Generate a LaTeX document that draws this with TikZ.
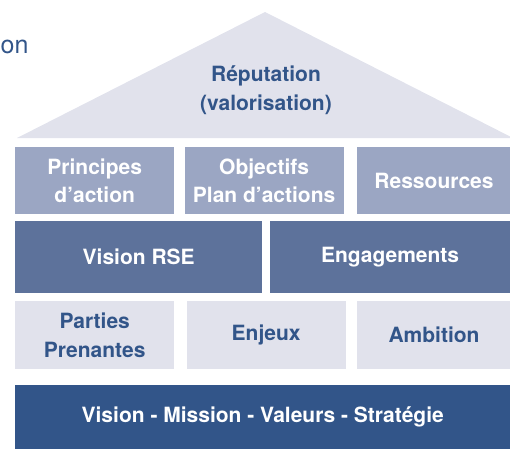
\documentclass[tikz,border=0pt]{standalone}
\usepackage{fontspec}
\setmainfont{TeX Gyre Heros}
\usetikzlibrary{positioning}
\definecolor{roofcolor}{RGB}{225,226,236}
\definecolor{pillarcolor}{RGB}{155,166,195}
\definecolor{beamcolor}{RGB}{93,114,155}
\definecolor{basecolor}{RGB}{50,85,137}

\begin{document}
\begin{tikzpicture}[
    x=1pt, y=-1pt,
    node distance=10pt and 10pt,
    every node/.style={font=\fontsize{21}{28.5}\selectfont\bfseries},
    block/.style={rectangle, inner sep=0pt, align=center, anchor=north west},
    pillar/.style={block, fill=pillarcolor, text=white, minimum width=159pt, minimum height=67pt},
    beam/.style={block, fill=beamcolor, text=white, minimum height=72pt},
    stone/.style={block, fill=roofcolor, text=basecolor, minimum width=159pt, minimum height=68pt},
    groundblock/.style={block, fill=basecolor, text=white, minimum width=495pt, minimum height=64pt}
]
\useasboundingbox (0,0) rectangle (510,449);

% Cut title at the top left
\node[anchor=base west, inner sep=0pt, text=basecolor, font=\fontsize{25}{30}\selectfont] (title) at (0.5,54) {on};

% Roof
\coordinate (apex) at (265,12);
\coordinate (eaveL) at (17,138);
\coordinate (eaveR) at (513,138);
\fill[roofcolor] (eaveL) -- (apex) -- (eaveR) -- cycle;
\node[text=basecolor, align=center] (roof) at (266,90) {R\'eputation\\(valorisation)};

% Row 1: pillars
\node[pillar] (principes) at (15,147) {Principes\\d'action};
\node[pillar, right=10pt of principes.north east, anchor=north west] (objectifs) {Objectifs\\Plan d'actions};
\node[pillar, minimum width=154pt, right=13pt of objectifs.north east, anchor=north west] (ressources) {Ressources};

% Row 2: beams
\node[beam, minimum width=247pt] (vision) at (15,221) {Vision RSE};
\node[beam, minimum width=241pt, right=7pt of vision.north east, anchor=north west] (engagements) {Engagements};

% Row 3: foundation stones
\node[stone] (parties) at (15,301) {Parties\\Prenantes};
\node[stone, right=12pt of parties.north east, anchor=north west] (enjeux) {Enjeux};
\node[stone, minimum width=154pt, right=11pt of enjeux.north east, anchor=north west] (ambition) {Ambition};

% Row 4: ground
\node[groundblock] (ground) at (15,385) {Vision - Mission - Valeurs - Strat\'egie};

\end{tikzpicture}
\end{document}
